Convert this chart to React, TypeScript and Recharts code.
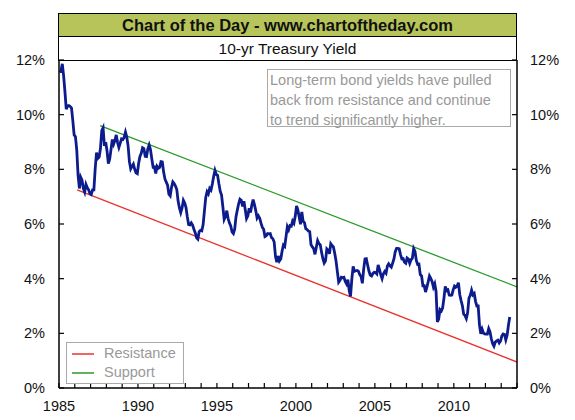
import { LineChart, Line, XAxis, YAxis, Legend } from 'recharts'

// monthly 10-yr treasury yield (%), starting Jan 1985
const START_YEAR = 1985
const yields1985to1989 = [
  11.55, 11.6, 11.86, 11.43, 10.85, 10.2, 10.31, 10.33, 10.3, 10.24, 9.78, 9.26,
  9.19, 8.7, 7.78, 7.3, 7.71, 7.6, 7.3, 7.17, 7.45, 7.33, 7.25, 7.11,
  7.08, 7.25, 7.25, 8.02, 8.61, 8.4, 8.45, 8.76, 9.42, 9.52, 8.86, 8.99,
  8.67, 8.21, 8.37, 8.72, 9.09, 8.92, 9.06, 9.26, 8.98, 8.8, 8.96, 9.11,
  9.09, 9.17, 9.36, 9.18, 8.86, 8.28, 8.02, 8.11, 8.19, 8.01, 7.87, 7.84,
]
const yields1990to1999 = [
  8.21, 8.47, 8.59, 8.79, 8.76, 8.48, 8.47, 8.75, 8.89, 8.72, 8.39, 8.08,
  8.09, 7.85, 8.11, 8.04, 8.07, 8.28, 8.27, 7.9, 7.65, 7.53, 7.42, 7.09,
  7.03, 7.34, 7.54, 7.48, 7.39, 7.26, 6.84, 6.59, 6.42, 6.59, 6.87, 6.77,
  6.6, 6.26, 5.98, 5.97, 6.04, 5.96, 5.81, 5.68, 5.5, 5.45, 5.72, 5.77,
  5.75, 5.97, 6.48, 6.97, 7.18, 7.1, 7.3, 7.24, 7.46, 7.74, 7.96, 7.81,
  7.78, 7.47, 7.2, 7.06, 6.63, 6.17, 6.28, 6.49, 6.2, 6.04, 5.93, 5.71,
  5.65, 5.81, 6.27, 6.51, 6.74, 6.91, 6.87, 6.64, 6.83, 6.53, 6.2, 6.3,
  6.58, 6.42, 6.69, 6.89, 6.71, 6.49, 6.22, 6.3, 6.21, 6.03, 5.88, 5.81,
  5.54, 5.57, 5.65, 5.64, 5.65, 5.5, 5.46, 5.34, 4.81, 4.6, 4.83, 4.65,
  4.72, 5.0, 5.23, 5.18, 5.54, 5.9, 5.79, 5.94, 5.92, 6.11, 6.03, 6.28,
]
const yields2000to2009 = [
  6.66, 6.52, 6.26, 5.99, 6.44, 6.1, 6.05, 5.83, 5.8, 5.74, 5.72, 5.24,
  5.16, 5.1, 4.89, 5.14, 5.39, 5.28, 5.24, 4.97, 4.73, 4.57, 4.65, 5.09,
  5.04, 4.91, 5.28, 5.21, 5.16, 4.93, 4.65, 4.26, 3.87, 3.94, 4.05, 4.03,
  4.05, 3.9, 3.81, 3.96, 3.57, 3.35, 3.98, 4.45, 4.27, 4.29, 4.3, 4.27,
  4.15, 4.08, 3.83, 4.35, 4.72, 4.73, 4.5, 4.28, 4.13, 4.1, 4.19, 4.23,
  4.22, 4.17, 4.5, 4.34, 4.14, 4.0, 4.18, 4.26, 4.2, 4.46, 4.54, 4.47,
  4.42, 4.57, 4.72, 4.99, 5.11, 5.11, 5.09, 4.88, 4.72, 4.73, 4.6, 4.56,
  4.76, 4.72, 4.56, 4.69, 4.75, 5.1, 5.0, 4.67, 4.52, 4.53, 4.15, 4.1,
  3.74, 3.74, 3.51, 3.68, 3.88, 4.1, 4.01, 3.89, 3.69, 3.81, 3.53, 2.42,
  2.52, 2.87, 2.82, 2.93, 3.29, 3.72, 3.56, 3.59, 3.4, 3.39, 3.4, 3.59,
]
const yields2010to2013 = [
  3.73, 3.69, 3.73, 3.85, 3.42, 3.2, 3.01, 2.7, 2.65, 2.54, 2.76, 3.29,
  3.39, 3.58, 3.41, 3.46, 3.17, 3.0, 3.0, 2.3, 1.98, 2.15, 2.01, 1.98,
  1.97, 1.97, 2.17, 2.05, 1.8, 1.62, 1.53, 1.68, 1.72, 1.75, 1.65, 1.72,
  1.91, 1.98, 1.96, 1.76, 1.93, 2.3, 2.6,
]
const yieldPct = [...yields1985to1989, ...yields1990to1999, ...yields2000to2009, ...yields2010to2013]

const resistanceYears = [1986.15, 2014]
const resistanceValues = [7.25, 0.95]
const supportYears = [1987.6, 2014]
const supportValues = [9.6, 3.7]

const yearTicks = [
  1985, 1986, 1987, 1988, 1989, 1990, 1991, 1992, 1993, 1994, 1995, 1996, 1997, 1998, 1999,
  2000, 2001, 2002, 2003, 2004, 2005, 2006, 2007, 2008, 2009, 2010, 2011, 2012, 2013, 2014,
]
const labelledYears = [1985, 1990, 1995, 2000, 2005, 2010]
const pctTicks = [0, 2, 4, 6, 8, 10, 12]

const yieldData = yieldPct.map((v, i) => ({ year: START_YEAR + (i + 0.5) / 12, yield: v }))
const resistanceData = resistanceYears.map((y, i) => ({ year: y, value: resistanceValues[i] }))
const supportData = supportYears.map((y, i) => ({ year: y, value: supportValues[i] }))

const W = 575
const H = 420
const PLOT_LEFT = 59
const PLOT_RIGHT = 517
const PLOT_TOP = 60
const PLOT_BOTTOM = 388
const FONT = '"Liberation Sans", Arial, sans-serif'
const RED = '#e8332c'
const GREEN = '#2a9a2a'
const NAVY = '#0c1c8c'
const legendNames = ['Resistance', 'Support']
const legendColors = [RED, GREEN]

function YearTick({ x, payload }: any) {
  const yr = payload.value
  return (
    <g>
      <line x1={x} x2={x} y1={PLOT_BOTTOM} y2={PLOT_BOTTOM - 5} stroke="#000" strokeWidth={1.2} />
      {labelledYears.includes(yr) && (
        <text x={x} y={411} textAnchor="middle" fontSize={14.5} fill="#111" fontFamily={FONT}>
          {yr}
        </text>
      )}
    </g>
  )
}

function LeftTick({ y, payload }: any) {
  return (
    <g>
      <line x1={PLOT_LEFT} x2={PLOT_LEFT + 5} y1={y} y2={y} stroke="#000" strokeWidth={1.2} />
      <text x={45} y={y + 5} textAnchor="end" fontSize={14.5} fill="#111" fontFamily={FONT}>
        {payload.value}%
      </text>
    </g>
  )
}

function RightTick({ y, payload }: any) {
  return (
    <g>
      <line x1={PLOT_RIGHT - 5} x2={PLOT_RIGHT} y1={y} y2={y} stroke="#000" strokeWidth={1.2} />
      <text x={530} y={y + 5} textAnchor="start" fontSize={14.5} fill="#111" fontFamily={FONT}>
        {payload.value}%
      </text>
    </g>
  )
}

function LegendBox() {
  return (
    <div
      style={{
        border: '1.5px solid #aaa',
        background: '#fff',
        padding: '1px 0 1px 5px',
        fontFamily: FONT,
        fontSize: 14.5,
        color: '#999',
        lineHeight: '19px',
      }}
    >
      {legendNames.map((name, i) => (
        <div key={name} style={{ display: 'flex', alignItems: 'center' }}>
          <svg width={24} height={10} style={{ marginRight: 8 }}>
            <line x1={0} x2={22} y1={5} y2={5} stroke={legendColors[i]} strokeWidth={1.5} />
          </svg>
          {name}
        </div>
      ))}
    </div>
  )
}

export default function App() {
  return (
    <div style={{ position: 'relative', width: W, height: H, background: '#fff' }}>
      <style>{`body{margin:0}`}</style>
      <LineChart width={W} height={H} margin={{ top: PLOT_TOP, right: 0, bottom: 0, left: 0 }}>
        <XAxis
          dataKey="year"
          type="number"
          domain={[1985, 2014]}
          ticks={yearTicks}
          allowDataOverflow
          height={H - PLOT_BOTTOM}
          tickSize={0}
          tickLine={false}
          axisLine={{ stroke: '#000', strokeWidth: 1.5 }}
          tick={<YearTick />}
          interval={0}
        />
        <YAxis
          yAxisId="left"
          type="number"
          domain={[0, 12]}
          ticks={pctTicks}
          width={PLOT_LEFT}
          tickSize={0}
          tickLine={false}
          axisLine={{ stroke: '#000', strokeWidth: 1.5 }}
          tick={<LeftTick />}
          interval={0}
        />
        <YAxis
          yAxisId="right"
          orientation="right"
          type="number"
          domain={[0, 12]}
          ticks={pctTicks}
          width={W - PLOT_RIGHT}
          tickSize={0}
          tickLine={false}
          axisLine={{ stroke: '#000', strokeWidth: 1.5 }}
          tick={<RightTick />}
          interval={0}
        />
        <Legend
          layout="horizontal"
          verticalAlign="middle"
          align="center"
          wrapperStyle={{ position: 'absolute', left: 66, top: 342, width: 118 }}
          content={<LegendBox />}
        />
        <Line
          yAxisId="right"
          data={resistanceData}
          dataKey="value"
          name="Resistance"
          stroke={RED}
          strokeWidth={1.3}
          dot={false}
          isAnimationActive={false}
        />
        <Line
          yAxisId="right"
          data={supportData}
          dataKey="value"
          name="Support"
          stroke={GREEN}
          strokeWidth={1.3}
          dot={false}
          isAnimationActive={false}
        />
        <Line
          yAxisId="left"
          data={yieldData}
          dataKey="yield"
          name="10-yr Yield"
          type="linear"
          stroke={NAVY}
          strokeWidth={2.8}
          dot={false}
          legendType="none"
          isAnimationActive={false}
        />
      </LineChart>

      {/* title block */}
      <div
        style={{
          position: 'absolute',
          left: PLOT_LEFT - 1,
          top: 13,
          width: PLOT_RIGHT - PLOT_LEFT - 1,
          height: PLOT_TOP - 13 - 1,
          border: '1.5px solid #000',
          fontFamily: FONT,
          textAlign: 'center',
        }}
      >
        <div
          style={{
            height: 22,
            lineHeight: '22px',
            background: '#b6c45a',
            borderBottom: '1.5px solid #000',
            fontWeight: 700,
            fontSize: 16.5,
            color: '#111',
          }}
        >
          Chart of the Day - www.chartoftheday.com
        </div>
        <div style={{ height: 22, lineHeight: '23px', fontSize: 15.5, color: '#111' }}>10-yr Treasury Yield</div>
      </div>

      {/* annotation */}
      <div
        style={{
          position: 'absolute',
          left: 267,
          top: 69,
          width: 240,
          height: 56,
          border: '1.5px solid #aaa',
          fontFamily: FONT,
          fontSize: 14.5,
          lineHeight: '20px',
          color: '#999',
          padding: '0 0 0 2px',
          whiteSpace: 'nowrap',
        }}
      >
        Long-term bond yields have pulled
        <br />
        back from resistance and continue
        <br />
        to trend significantly higher.
      </div>
    </div>
  )
}
